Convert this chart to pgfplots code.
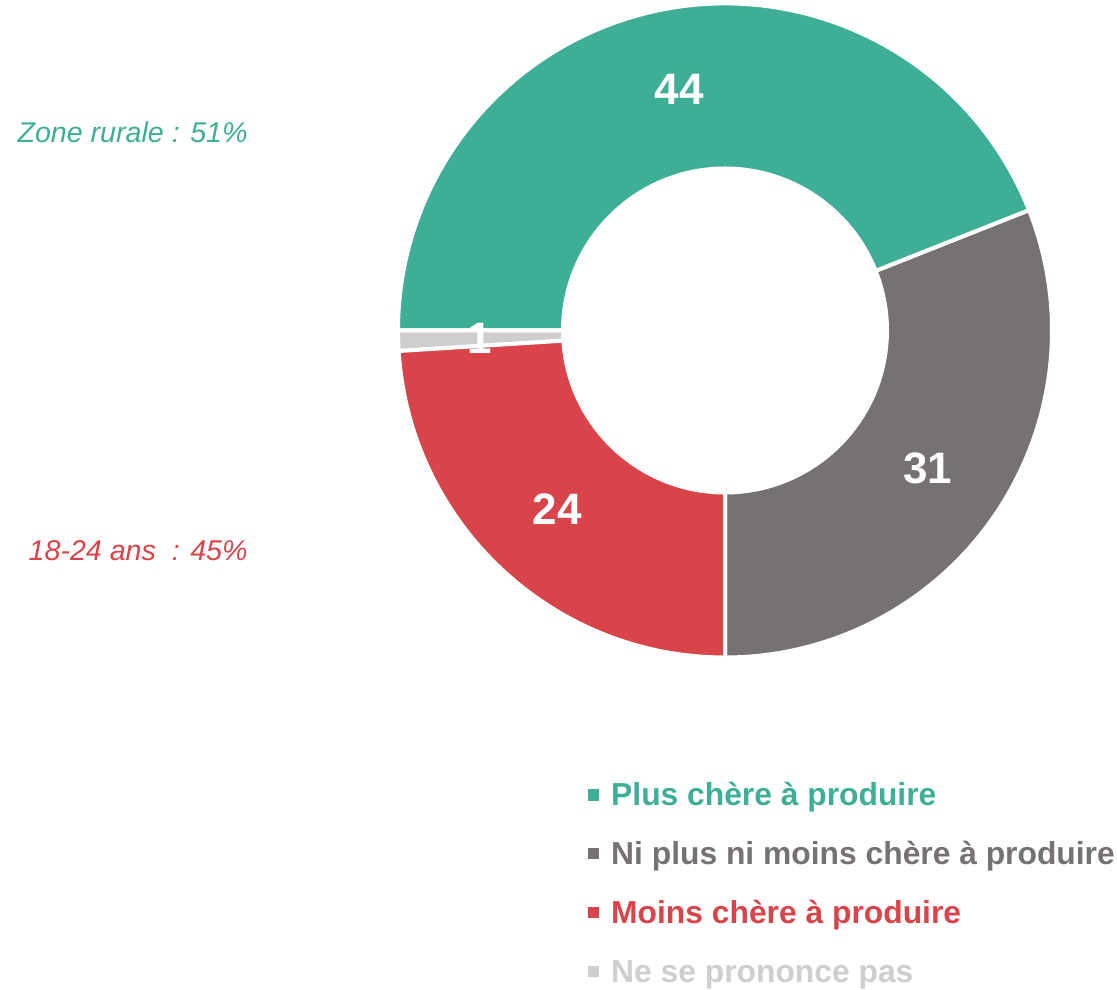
\documentclass[border=0pt]{standalone}
\usepackage{fontspec}
\setmainfont{Liberation Sans}
\usepackage{pgfplots}
\usepackage{pgfplotstable}
\pgfplotsset{compat=1.18}
\definecolor{cgreen}{HTML}{3EAE96}
\definecolor{cgray}{HTML}{767271}
\definecolor{cred}{HTML}{D8444A}
\definecolor{clight}{HTML}{CFCDCD}
\newcommand\lblfont{\fontsize{22}{26}\selectfont\bfseries}
% values, counter-clockwise from the bottom
\pgfplotstableread{
value col
31 cgray
44 cgreen
1 clight
24 cred
}\piedata
\begin{document}
\begin{tikzpicture}
\begin{axis}[
  name=ax,
  x=0.5pt, y=0.5pt,
  xmin=0, xmax=1117, ymin=0, ymax=989,
  hide axis, clip=false,
  legend cell align=left,
  legend image code/.code={\fill (0pt,0.4pt) rectangle (5.2pt,5.6pt);},
  legend style={at={(axis cs:588,199.7)}, anchor=north west,
    draw=none, fill=none, inner sep=0pt, outer sep=0pt,
    font=\fontsize{15.9}{19}\selectfont\bfseries,
    nodes={inner sep=0pt, text height=0.75em, text depth=0.25em},
    row sep=18.6pt, column sep=6pt},
]
\path (axis cs:0,0) rectangle (axis cs:1117,989);
\def\cum{-90}
\pgfplotsforeachungrouped \i in {0,...,3}{%
  \pgfplotstablegetelem{\i}{value}\of\piedata \let\sval\pgfplotsretval
  \pgfplotstablegetelem{\i}{col}\of\piedata \let\scol\pgfplotsretval
  \pgfmathsetmacro\sstart{\cum}%
  \pgfmathsetmacro\sstop{\cum+3.6*\sval}%
  \pgfmathsetmacro\sback{\sstop+180}%
  \edef\temp{\noexpand\fill[\scol, draw=white, line width=2pt]
    (axis cs:725,658.5) ++(\sstart:163.5pt)
    arc[start angle=\sstart, end angle=\sstop, radius=163.5pt]
    -- ++(\sback:82.5pt)
    arc[start angle=\sstop, end angle=\sstart, radius=81pt] -- cycle;}%
  \temp
  \let\cum\sstop
}
\def\cum{-90}
\pgfplotsforeachungrouped \i in {0,...,3}{%
  \pgfplotstablegetelem{\i}{value}\of\piedata \let\sval\pgfplotsretval
  \pgfmathsetmacro\smid{\cum+1.8*\sval}%
  \pgfmathsetmacro\sstop{\cum+3.6*\sval}%
  \edef\temp{\noexpand\path (axis cs:725,658.5) ++(\smid:122.5pt)
    node[text=white, font=\noexpand\lblfont] {\sval};}%
  \temp
  \let\cum\sstop
}
\addlegendimage{cgreen}\addlegendentry[text=cgreen]{Plus chère à produire}
\addlegendimage{cgray}\addlegendentry[text=cgray]{Ni plus ni moins chère à produire}
\addlegendimage{cred}\addlegendentry[text=cred]{Moins chère à produire}
\addlegendimage{clight}\addlegendentry[text=clight]{Ne se prononce pas}
\node[anchor=base east, inner sep=0pt, text=cgreen, font=\fontsize{14.3}{17}\selectfont\itshape]
  at (axis cs:248,846) {Zone rurale : 51\%};
\node[anchor=base east, inner sep=0pt, text=cred, font=\fontsize{14.3}{17}\selectfont\itshape]
  at (axis cs:248,428) {18-24 ans\ \ : 45\%};
\end{axis}
\pgfresetboundingbox
\path (ax.south west) rectangle (ax.north east);
\end{tikzpicture}
\end{document}
